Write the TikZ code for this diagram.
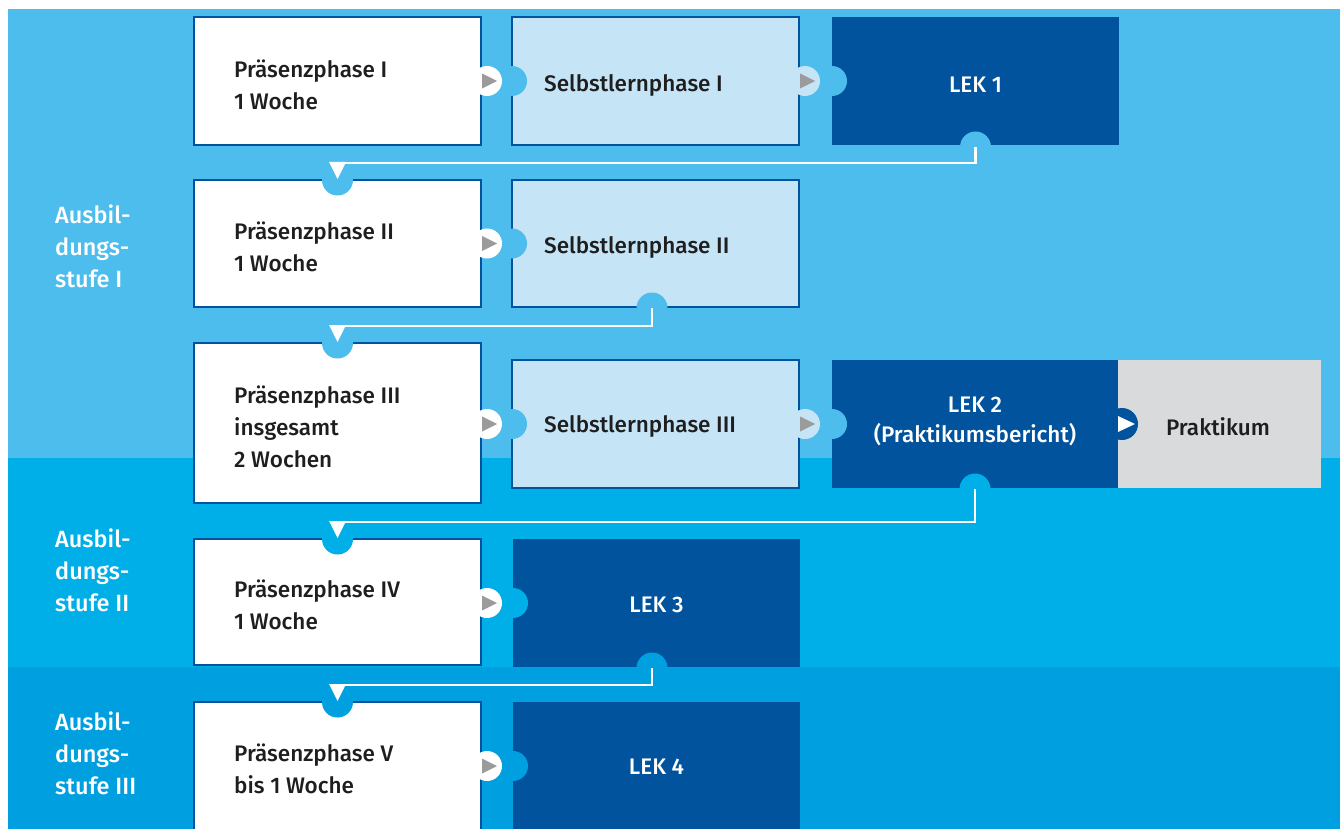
\documentclass[tikz,border=0pt]{standalone}
\usepackage{fontspec}
\setmainfont{Fira Sans Medium}
\usetikzlibrary{calc}
\definecolor{bandA}{HTML}{4CBDEC}
\definecolor{bandB}{HTML}{00AEE8}
\definecolor{bandC}{HTML}{009FE0}
\definecolor{dark}{HTML}{00539C}
\definecolor{light}{HTML}{C5E4F6}
\definecolor{greybox}{HTML}{D9DADB}
\definecolor{trigrey}{HTML}{9B9B9B}
\definecolor{textdark}{HTML}{1E1E1E}
\begin{document}
\begin{tikzpicture}[x=1pt,y=-1pt,
  box/.style={rectangle, inner sep=0pt, outer sep=0pt},
  pbox/.style={box, fill=white, draw=dark, line width=2pt},
  sbox/.style={box, fill=light, draw=dark, line width=2pt},
  lbox/.style={box, fill=dark},
  gbox/.style={box, fill=greybox},
  txt/.style={font=\fontsize{22.5}{32}\selectfont, text=textdark, align=left, inner sep=0pt, anchor=west},
  wtxt/.style={txt, text=white, font=\fontsize{23.5}{32}\selectfont},
  ctxt/.style={font=\fontsize{22.5}{30}\selectfont, text=white, align=center, inner sep=0pt, anchor=center},
  wline/.style={draw=white, line width=2.5pt, line join=miter}
]
\useasboundingbox (0,0) rectangle (1340,829);
% bands
\fill[bandA] (8,9) rectangle (1340,458);
\fill[bandB] (8,458) rectangle (1340,667);
\fill[bandC] (8,667) rectangle (1340,829);

% boxes
\node[pbox, minimum width=287pt, minimum height=128pt] (p1) at (337.5,81) {};
\node[pbox, minimum width=287pt, minimum height=127pt] (p2) at (337.5,243.5) {};
\node[pbox, minimum width=287pt, minimum height=160pt] (p3) at (337.5,423) {};
\node[pbox, minimum width=287pt, minimum height=126pt] (p4) at (337.5,602) {};
\node[pbox, minimum width=287pt, minimum height=128pt] (p5) at (337.5,766) {};
\node[sbox, minimum width=287pt, minimum height=128pt] (s1) at (655.5,81) {};
\node[sbox, minimum width=287pt, minimum height=127pt] (s2) at (655.5,243.5) {};
\node[sbox, minimum width=287pt, minimum height=128pt] (s3) at (655.5,424) {};
\node[lbox, minimum width=287pt, minimum height=128pt] (l1) at (975.5,81) {};
\node[lbox, minimum width=286pt, minimum height=128pt] (l2) at (975,424) {};
\node[gbox, minimum width=203pt, minimum height=128pt] (pr) at (1219.5,424) {};
\node[lbox, minimum width=287pt, minimum height=128pt] (l3) at (656.5,603) {};
\node[lbox, minimum width=287pt, minimum height=128pt] (l4) at (656.5,766) {};

% right connectors: in-circles
\fill[bandA] (s1.west) circle[radius=15pt];
\fill[bandA] (l1.west) circle[radius=15pt];
\fill[bandA] (s2.west) circle[radius=15pt];
\fill[bandA] (s3.west) circle[radius=15pt];
\fill[bandA] (l2.west) circle[radius=15pt];
\fill[bandB] (l3.west) circle[radius=15pt];
\fill[bandC] (l4.west) circle[radius=15pt];
% right connectors: out-circles and triangles
\fill[white] ($(p1.east |- s1.west)+(6,0)$) circle[radius=15pt];
\fill[trigrey] ($(p1.east |- s1.west)+(1,-7.5)$) -- ++(0,15) -- ++(15,-7.5) -- cycle;
\fill[light] ($(s1.east |- l1.west)+(6,0)$) circle[radius=15pt];
\fill[trigrey] ($(s1.east |- l1.west)+(1,-7.5)$) -- ++(0,15) -- ++(15,-7.5) -- cycle;
\fill[white] ($(p2.east |- s2.west)+(6,0)$) circle[radius=15pt];
\fill[trigrey] ($(p2.east |- s2.west)+(1,-7.5)$) -- ++(0,15) -- ++(15,-7.5) -- cycle;
\fill[white] ($(p3.east |- s3.west)+(6,0)$) circle[radius=15pt];
\fill[trigrey] ($(p3.east |- s3.west)+(1,-7.5)$) -- ++(0,15) -- ++(15,-7.5) -- cycle;
\fill[light] ($(s3.east |- l2.west)+(6,0)$) circle[radius=15pt];
\fill[trigrey] ($(s3.east |- l2.west)+(1,-7.5)$) -- ++(0,15) -- ++(15,-7.5) -- cycle;
\fill[white] ($(p4.east |- l3.west)+(6,0)$) circle[radius=15pt];
\fill[trigrey] ($(p4.east |- l3.west)+(1,-7.5)$) -- ++(0,15) -- ++(15,-7.5) -- cycle;
\fill[white] ($(p5.east |- l4.west)+(6,0)$) circle[radius=15pt];
\fill[trigrey] ($(p5.east |- l4.west)+(1,-7.5)$) -- ++(0,15) -- ++(15,-7.5) -- cycle;
\fill[dark] ($(l2.east)+(4,0)$) circle[radius=16pt];
\fill[white] ($(l2.east)+(0,-8)$) -- ++(0,16) -- ++(17,-8) -- cycle;

% down connectors
\coordinate (d1) at ($(l1.south)+(0,2)$);
\coordinate (d2) at ($(s2.south)+(-3.5,1)$);
\coordinate (d3) at ($(l2.south)+(0,1)$);
\coordinate (d4) at ($(l3.south)+(-4.5,1)$);
\fill[bandA] (d1) circle[radius=15.5pt];
\fill[bandA] (p2.north) circle[radius=15.5pt];
\fill[bandA] (d2) circle[radius=15.5pt];
\fill[bandA] (p3.north) circle[radius=15.5pt];
\fill[bandB] (d3) circle[radius=15.5pt];
\fill[bandB] (p4.north) circle[radius=15.5pt];
\fill[bandC] (d4) circle[radius=15.5pt];
\fill[bandC] (p5.north) circle[radius=15.5pt];
\draw[wline] (d1) |- ($(p2.north)+(0,-17)$);
\draw[wline] (d2) |- ($(p3.north)+(0,-17)$);
\draw[wline] (d3) |- ($(p4.north)+(0,-17)$);
\draw[wline] (d4) |- ($(p5.north)+(0,-17)$);
\fill[white] ($(p2.north)+(-8.5,-18)$) -- ($(p2.north)+(8.5,-18)$) -- ($(p2.north)+(0,-1)$) -- cycle;
\fill[white] ($(p3.north)+(-8.5,-18)$) -- ($(p3.north)+(8.5,-18)$) -- ($(p3.north)+(0,-1)$) -- cycle;
\fill[white] ($(p4.north)+(-8.5,-18)$) -- ($(p4.north)+(8.5,-18)$) -- ($(p4.north)+(0,-1)$) -- cycle;
\fill[white] ($(p5.north)+(-8.5,-18)$) -- ($(p5.north)+(8.5,-18)$) -- ($(p5.north)+(0,-1)$) -- cycle;

% texts
\node[txt] (tp1) at (234,85) {Präsenzphase I\\1 Woche};
\node[txt] (tp2) at (234,247) {Präsenzphase II\\1 Woche};
\node[txt] (tp3) at (234,427) {Präsenzphase III\\insgesamt\\2 Wochen};
\node[txt] (tp4) at (234,605) {Präsenzphase IV\\1 Woche};
\node[txt] (tp5) at (234,769) {Präsenzphase V\\bis 1 Woche};
\node[txt] (ts1) at (544,85) {Selbstlernphase I};
\node[txt] (ts2) at (544,247) {Selbstlernphase II};
\node[txt] (ts3) at (544,426) {Selbstlernphase III};
\node[ctxt] (tl1) at (975.5,85) {LEK 1};
\node[ctxt] (tl2) at (975,421) {LEK 2\\(Praktikumsbericht)};
\node[ctxt] (tl3) at (656.5,605) {LEK 3};
\node[ctxt] (tl4) at (656.5,767) {LEK 4};
\node[ctxt, text=textdark] (tpr) at (1218,427) {Praktikum};
\node[wtxt] (a1) at (55,246) {Ausbil-\\dungs-\\stufe I};
\node[wtxt] (a2) at (55,570) {Ausbil-\\dungs-\\stufe II};
\node[wtxt] (a3) at (55,753) {Ausbil-\\dungs-\\stufe III};
\end{tikzpicture}
\end{document}
